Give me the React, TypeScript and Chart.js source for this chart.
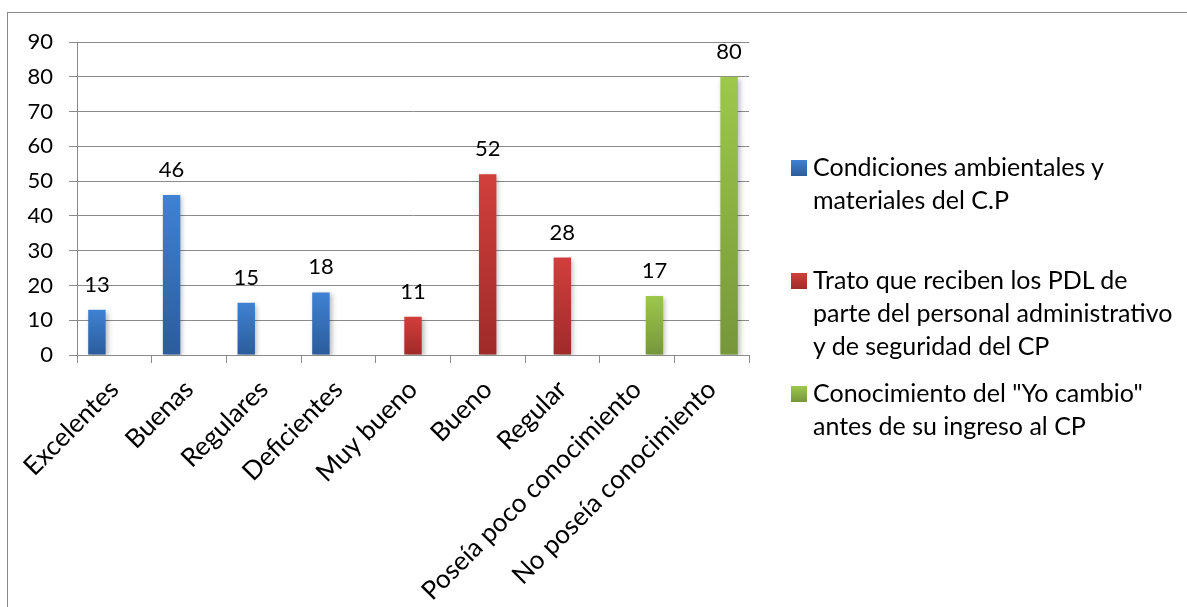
import React, { useEffect, useRef } from "react";
import { Chart, registerables } from "chart.js";

Chart.register(...registerables);

const categories = [
  "Excelentes",
  "Buenas",
  "Regulares",
  "Deficientes",
  "Muy bueno",
  "Bueno",
  "Regular",
  "Poseía poco conocimiento",
  "No poseía conocimiento",
];
const condiciones = [13, 46, 15, 18, null, null, null, null, null];
const trato = [null, null, null, null, 11, 52, 28, null, null];
const conocimiento = [null, null, null, null, null, null, null, 17, 80];
const seriesNames = [
  "Condiciones ambientales y\nmateriales del C.P",
  "Trato que reciben los PDL de\nparte del personal administrativo\ny de seguridad del CP",
  'Conocimiento del "Yo cambio"\nantes de su ingreso al CP',
];
const yMin = 0;
const yMax = 90;
const yStep = 10;

const seriesColors = [
  ["#3f82d3", "#2b5c9b"],
  ["#d13f3c", "#9e2b29"],
  ["#9dc84b", "#76963a"],
];
const legendTops = [150, 263, 376];

const FONT = "Lato, 'Open Sans', sans-serif";
const GRID = "#8a8a8a";

function gradientFill(idx: number) {
  return (ctx: any) => {
    const [top, bottom] = seriesColors[idx];
    const chart = ctx.chart;
    if (!chart.chartArea || ctx.type !== "data" || ctx.raw == null) return top;
    const ys = chart.scales.y;
    const y0 = ys.getPixelForValue(ctx.raw);
    const y1 = ys.getPixelForValue(0);
    const g = chart.ctx.createLinearGradient(0, y0, 0, y1);
    g.addColorStop(0, top);
    g.addColorStop(1, bottom);
    return g;
  };
}

const shadowPlugin = {
  id: "barShadow",
  beforeDatasetsDraw(chart: any) {
    const c = chart.ctx;
    c.save();
    c.shadowColor = "rgba(0,0,0,0.28)";
    c.shadowBlur = 5;
    c.shadowOffsetX = 2;
    c.shadowOffsetY = 2;
  },
  afterDatasetsDraw(chart: any) {
    chart.ctx.restore();
  },
};

const valueLabels = {
  id: "valueLabels",
  afterDraw(chart: any) {
    const c = chart.ctx;
    c.save();
    c.font = `22px ${FONT}`;
    c.fillStyle = "#000";
    c.textAlign = "center";
    c.textBaseline = "alphabetic";
    chart.data.datasets.forEach((ds: any, i: number) => {
      const meta = chart.getDatasetMeta(i);
      meta.data.forEach((el: any, j: number) => {
        const v = ds.data[j];
        if (v == null) return;
        c.fillText(String(v), el.x, el.y - 18);
      });
    });
    c.restore();
  },
};

export default function App() {
  const ref = useRef<HTMLCanvasElement | null>(null);

  useEffect(() => {
    if (!ref.current) return;
    const chart = new Chart(ref.current, {
      type: "bar",
      data: {
        labels: categories,
        datasets: [condiciones, trato, conocimiento].map((d, i) => ({
          label: seriesNames[i].replace(/\n/g, " "),
          data: d,
          backgroundColor: gradientFill(i),
          borderWidth: 0,
          barPercentage: 1,
          categoryPercentage: 0.7,
          skipNull: false,
        })),
      },
      options: {
        animation: false,
        responsive: true,
        maintainAspectRatio: false,
        layout: { padding: { left: 0, right: 438, top: 42, bottom: 0 } },
        plugins: {
          legend: { display: false },
          tooltip: { enabled: false },
        },
        scales: {
          x: {
            afterFit: (s: any) => {
              s.height = 252;
            },
            grid: {
              display: true,
              drawOnChartArea: false,
              drawTicks: true,
              tickLength: 8,
              color: GRID,
              offset: true,
            },
            border: { display: true, color: GRID, width: 1 },
            ticks: {
              minRotation: 45,
              maxRotation: 45,
              autoSkip: false,
              padding: 11,
              color: "#000",
              font: { family: FONT, size: 26 },
            },
          },
          y: {
            min: yMin,
            max: yMax,
            afterFit: (s: any) => {
              s.width = 77;
            },
            grid: {
              color: GRID,
              lineWidth: 1,
              tickLength: 8,
            },
            border: { display: true, color: GRID, width: 1 },
            ticks: {
              stepSize: yStep,
              padding: 16,
              color: "#000",
              font: { family: FONT, size: 22 },
            },
          },
        },
      },
      plugins: [shadowPlugin, valueLabels],
    });
    return () => chart.destroy();
  }, []);

  return (
    <div
      style={{
        position: "fixed",
        left: 0,
        top: 0,
        width: 1187,
        height: 607,
        background: "#fff",
        overflow: "hidden",
      }}
    >
      <div
        style={{
          position: "absolute",
          left: 7,
          top: 12,
          width: 1300,
          height: 700,
          border: "1px solid #888",
        }}
      />
      <div style={{ position: "absolute", left: 0, top: 0, width: 1187, height: 607 }}>
        <canvas ref={ref} />
      </div>
      {seriesNames.map((name, i) => (
        <div
          key={i}
          style={{
            position: "absolute",
            left: 791,
            top: legendTops[i],
            fontFamily: FONT,
            fontSize: 25,
            lineHeight: "33px",
            color: "#000",
            whiteSpace: "pre",
          }}
        >
          <span
            style={{
              position: "absolute",
              left: 0,
              top: 10,
              width: 16,
              height: 16,
              background: `linear-gradient(${seriesColors[i][0]}, ${seriesColors[i][1]})`,
            }}
          />
          <div style={{ marginLeft: 22 }}>{name}</div>
        </div>
      ))}
    </div>
  );
}
